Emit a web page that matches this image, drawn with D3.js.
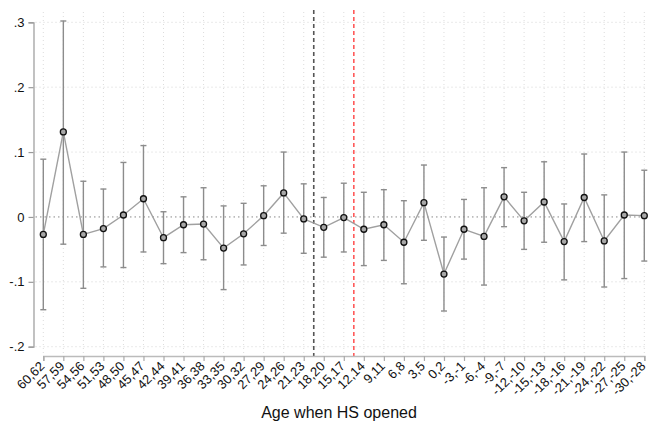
<!DOCTYPE html>
<html><head><meta charset="utf-8">
<script src="https://cdn.jsdelivr.net/npm/d3@7"></script>
<style>body{margin:0;background:#fff}svg{display:block}text{font-family:"Liberation Sans",Arial,sans-serif}</style>
</head><body><div id="chart"></div>
<script>
const categories = ["60,62","57,59","54,56","51,53","48,50","45,47","42,44","39,41","36,38","33,35","30,32","27,29","24,26","21,23","18,20","15,17","12,14","9,11","6,8","3,5","0,2","-3,-1","-6,-4","-9,-7","-12,-10","-15,-13","-18,-16","-21,-19","-24,-22","-27,-25","-30,-28"];
const estimates = [-0.027,0.131,-0.027,-0.018,0.003,0.028,-0.032,-0.012,-0.011,-0.048,-0.026,0.002,0.037,-0.003,-0.016,-0.001,-0.019,-0.012,-0.039,0.022,-0.088,-0.019,-0.030,0.031,-0.006,0.023,-0.038,0.030,-0.037,0.003,0.002];
const ciUpper = [0.089,0.302,0.055,0.043,0.084,0.110,0.008,0.031,0.045,0.017,0.021,0.048,0.100,0.051,0.030,0.052,0.038,0.042,0.025,0.080,-0.031,0.027,0.045,0.076,0.038,0.085,0.020,0.097,0.034,0.100,0.072];
const ciLower = [-0.143,-0.042,-0.110,-0.077,-0.078,-0.054,-0.072,-0.055,-0.066,-0.112,-0.074,-0.044,-0.025,-0.056,-0.062,-0.054,-0.075,-0.067,-0.103,-0.036,-0.145,-0.065,-0.105,-0.015,-0.050,-0.039,-0.097,-0.038,-0.108,-0.095,-0.068];
const yTicks = [-0.2,-0.1,0,0.1,0.2,0.3];
const yTickLabels = ["-.2","-.1","0",".1",".2",".3"];
const refLines = [{between:["21,23","18,20"], color:"#555555"},{between:["15,17","12,14"], color:"#ff5a5a"}];
const xTitle = "Age when HS opened";

const W=649,H=426;
const svg=d3.select("#chart").append("svg").attr("width",W).attr("height",H);
const x=d3.scalePoint().domain(categories).range([43.3,644.3]);
const y=d3.scaleLinear().domain([-0.2,0.3]).range([346.7,22.3]);
const plotTop=10, axisY=356, axisX=33.5;

// grid
const g=svg.append("g");
g.selectAll(".vg").data(categories).join("line")
 .attr("x1",d=>x(d)).attr("x2",d=>x(d)).attr("y1",12).attr("y2",axisY)
 .attr("stroke","#dcdcdc").attr("stroke-width",1).attr("stroke-dasharray","1,3");
g.selectAll(".hg").data(yTicks.filter(d=>d!==0)).join("line")
 .attr("x1",axisX+2).attr("x2",646).attr("y1",d=>y(d)).attr("y2",d=>y(d))
 .attr("stroke","#d4d4d4").attr("stroke-width",1).attr("stroke-dasharray","1,3");
g.append("line").attr("x1",axisX+2).attr("x2",646).attr("y1",y(0)).attr("y2",y(0))
 .attr("stroke","#888").attr("stroke-width",1).attr("stroke-dasharray","1.5,3");

// ref lines
refLines.forEach(r=>{
  const xv=(x(r.between[0])+x(r.between[1]))/2;
  svg.append("line").attr("x1",xv).attr("x2",xv).attr("y1",plotTop).attr("y2",axisY)
   .attr("stroke",r.color).attr("stroke-width",1.6).attr("stroke-dasharray","4,3");
});

// y axis
const ya=svg.append("g").attr("transform",`translate(${axisX},0)`)
 .call(d3.axisLeft(y).tickValues(yTicks).tickFormat((d,i)=>yTickLabels[i]).tickSizeOuter(0).tickSize(5).tickPadding(4));
ya.select(".domain").attr("stroke","#999").attr("stroke-width",1.2);
ya.selectAll(".tick line").attr("stroke","#999").attr("stroke-width",1.2);
ya.selectAll("text").attr("font-size",13).attr("fill","#111").attr("font-family","Liberation Sans, Arial, sans-serif");

// x axis
const xa=svg.append("g").attr("transform",`translate(0,${axisY})`)
 .call(d3.axisBottom(x).tickSizeOuter(0).tickSize(5));
xa.select(".domain").attr("stroke","#bbb").attr("stroke-width",1.6);
xa.selectAll(".tick line").attr("stroke","#aaa").attr("stroke-width",1.2);
xa.selectAll("text").attr("font-size",13).attr("fill","#111")
 .attr("font-family","Liberation Sans, Arial, sans-serif")
 .attr("text-anchor","end").attr("x",0).attr("y",0).attr("dy",null)
 .attr("transform","translate(1.5,11) rotate(-45)");

// CIs
const ci=svg.append("g");
categories.forEach((c,i)=>{
  const cx=x(c);
  ci.append("line").attr("x1",cx).attr("x2",cx).attr("y1",y(ciUpper[i])).attr("y2",y(ciLower[i])).attr("stroke","#8c8c8c").attr("stroke-width",1.4);
  [ciUpper[i],ciLower[i]].forEach(v=>ci.append("line").attr("x1",cx-3).attr("x2",cx+3).attr("y1",y(v)).attr("y2",y(v)).attr("stroke","#8c8c8c").attr("stroke-width",1.4));
});

// connecting line
svg.append("path").datum(estimates)
 .attr("d",d3.line().x((d,i)=>x(categories[i])).y(d=>y(d)))
 .attr("fill","none").attr("stroke","#a0a0a0").attr("stroke-width",1.4);

// points
svg.selectAll(".pt").data(estimates).join("circle")
 .attr("cx",(d,i)=>x(categories[i])).attr("cy",d=>y(d)).attr("r",3)
 .attr("fill","#a8a8a8").attr("stroke","#111").attr("stroke-width",1.3);

// title
svg.append("text").attr("x",339).attr("y",418).attr("text-anchor","middle")
 .attr("font-size",16).attr("fill","#111").text(xTitle);
</script></body></html>
